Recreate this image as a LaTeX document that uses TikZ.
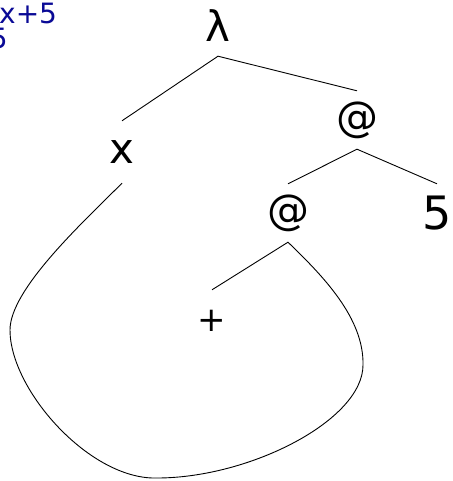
\documentclass[tikz,border=0pt]{standalone}
\usepackage{fontspec}
\setmainfont{DejaVu Sans}
\definecolor{navy}{RGB}{10,10,150}
\begin{document}
\begin{tikzpicture}[x=1pt,y=-1pt,
  tn/.style={inner sep=0pt,font=\fontsize{42}{44}\selectfont},
  blue text/.style={inner sep=0pt,text=navy,font=\fontsize{28}{30}\selectfont},
  edge/.style={line width=0.9pt}]
\useasboundingbox (0,0) rectangle (452,481);
\node[blue text,anchor=west] (t1) at (-1,13) {x+5};
\node[blue text,anchor=east] (t2) at (8,38) {5};
\node[tn,minimum height=60pt] (lam) at (218,26) {λ};
\node[tn,minimum height=62pt] (x) at (122,152) {x};
\node[tn,minimum height=58pt] (app1) at (357,120) {@};
\node[tn,minimum height=58pt] (app2) at (288,213) {@};
\node[tn,minimum height=58pt,font=\fontsize{46}{48}\selectfont] (five) at (437,213) {5};
\node[tn,minimum height=62pt,font=\fontsize{34}{36}\selectfont] (plus) at (212,321) {+};
\draw[edge] (x.north) -- (lam.south) -- (app1.north);
\draw[edge] (app2.north) -- (app1.south) -- (five.north);
\draw[edge] (plus.north) -- (app2.south)
  .. controls (323,276) and (364,318) .. (363,365)
  .. controls (363,420) and (250,478) .. (157,478)
  .. controls (90,480) and (10,390) .. (10,330)
  .. controls (10,290) and (80,225) .. (x.south);
\end{tikzpicture}
\end{document}
